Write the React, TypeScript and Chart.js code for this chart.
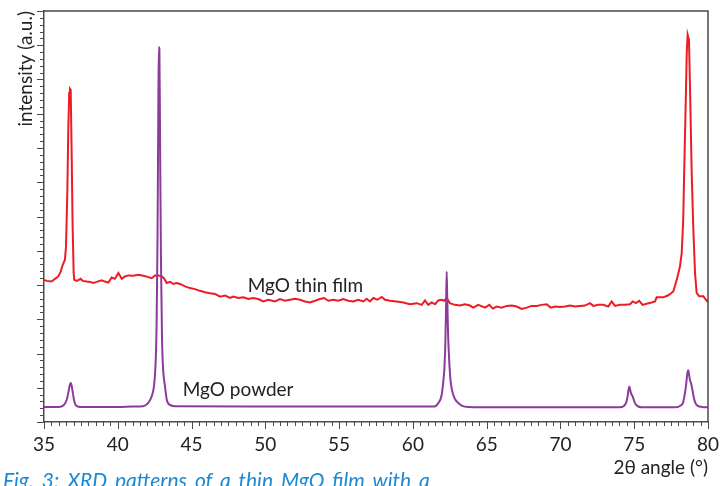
import React, { useEffect, useRef } from "react";
import { Chart, registerables } from "chart.js";

Chart.register(...registerables);

// ---- data (2θ in degrees, intensity in arbitrary units) ----
const filmX = [
  35.0, 35.18, 35.52, 35.75, 35.97, 36.13, 36.27, 36.42, 36.49, 36.58, 36.65, 36.71, 36.76, 36.81, 36.88, 36.94,
  37.01, 37.05, 37.22, 37.49, 37.62, 37.89, 38.12, 38.34, 38.57, 38.91, 39.13, 39.36, 39.59, 39.81, 40.04, 40.27,
  40.49, 40.71, 41.05, 41.39, 41.73, 42.07, 42.3, 42.52, 42.75, 42.98, 43.13, 43.32, 43.54, 43.76, 43.99, 44.22,
  44.56, 44.89, 45.23, 45.57, 45.91, 46.25, 46.59, 46.93, 47.27, 47.61, 47.83, 48.17, 48.51, 48.84, 49.18, 49.52,
  49.86, 50.2, 50.65, 50.99, 51.33, 51.67, 52.01, 52.35, 52.69, 53.03, 53.37, 53.7, 53.98, 54.27, 54.61, 54.94,
  55.28, 55.62, 55.96, 56.3, 56.64, 56.87, 57.09, 57.32, 57.59, 57.89, 58.11, 58.45, 58.9, 59.35, 59.8, 60.26,
  60.6, 60.82, 61.04, 61.27, 61.5, 61.72, 61.95, 62.11, 62.29, 62.51, 62.85, 63.19, 63.53, 63.87, 64.09, 64.43,
  64.89, 65.18, 65.41, 65.68, 66.02, 66.36, 66.7, 67.03, 67.37, 67.71, 68.05, 68.39, 68.73, 69.07, 69.34, 69.63,
  69.97, 70.31, 70.65, 70.99, 71.32, 71.66, 72.0, 72.23, 72.56, 72.9, 73.24, 73.47, 73.7, 74.03, 74.37, 74.71,
  74.9, 75.12, 75.34, 75.57, 75.84, 76.18, 76.41, 76.52, 76.97, 77.31, 77.65, 77.88, 78.1, 78.22, 78.32, 78.39,
  78.49, 78.56, 78.62, 78.71, 78.78, 78.89, 79.0, 79.12, 79.23, 79.41, 79.68, 79.95, 80.0,
];
const filmY = [
  4.15, 4.12, 4.1, 4.18, 4.25, 4.39, 4.59, 4.74, 5.12, 6.69, 8.63, 9.61, 9.73, 9.7, 7.65, 5.71,
  4.36, 4.15, 4.12, 4.18, 4.12, 4.1, 4.09, 4.06, 4.09, 4.14, 4.1, 4.07, 4.22, 4.18, 4.35, 4.18,
  4.25, 4.28, 4.27, 4.3, 4.27, 4.23, 4.2, 4.28, 4.28, 4.25, 4.2, 4.06, 4.09, 4.03, 4.06, 4.03,
  3.96, 3.91, 3.88, 3.83, 3.79, 3.76, 3.74, 3.66, 3.69, 3.62, 3.66, 3.62, 3.64, 3.59, 3.62, 3.59,
  3.52, 3.57, 3.52, 3.59, 3.54, 3.57, 3.6, 3.57, 3.52, 3.49, 3.54, 3.59, 3.62, 3.54, 3.57, 3.54,
  3.59, 3.54, 3.52, 3.57, 3.52, 3.6, 3.52, 3.62, 3.57, 3.65, 3.57, 3.54, 3.52, 3.49, 3.44, 3.47,
  3.42, 3.55, 3.42, 3.49, 3.44, 3.55, 3.57, 3.54, 3.62, 3.47, 3.42, 3.4, 3.44, 3.4, 3.34, 3.42,
  3.34, 3.42, 3.31, 3.37, 3.34, 3.39, 3.4, 3.37, 3.3, 3.34, 3.39, 3.39, 3.42, 3.44, 3.34, 3.37,
  3.36, 3.37, 3.4, 3.37, 3.39, 3.4, 3.47, 3.39, 3.42, 3.42, 3.37, 3.52, 3.39, 3.42, 3.42, 3.44,
  3.52, 3.47, 3.54, 3.42, 3.45, 3.49, 3.52, 3.64, 3.64, 3.7, 3.81, 4.15, 4.54, 4.94, 5.9, 7.36,
  9.32, 10.78, 11.31, 11.16, 9.79, 7.36, 5.71, 4.36, 3.77, 3.67, 3.67, 3.52, 3.51,
];

const powderX = [
  35.0, 36.0, 36.31, 36.54, 36.65, 36.76, 36.83, 36.94, 37.03, 37.17, 37.44, 40.0, 41.0, 41.7,
  42.05, 42.3, 42.45, 42.55, 42.63, 42.69, 42.74, 42.78, 42.82, 42.87, 42.93, 43.0, 43.08, 43.2,
  43.32, 43.54, 43.9, 50.0, 55.0, 60.0, 61.0, 61.4, 61.72, 61.95, 62.06, 62.14, 62.2, 62.25,
  62.29, 62.33, 62.39, 62.46, 62.56, 62.74, 62.97, 63.31, 63.75, 66.0, 70.0, 74.0, 74.3, 74.45,
  74.55, 74.62, 74.67, 74.72, 74.8, 74.88, 74.95, 75.05, 75.2, 75.5, 77.8, 78.15, 78.3, 78.42,
  78.52, 78.6, 78.66, 78.72, 78.78, 78.86, 78.94, 79.02, 79.12, 79.3, 79.6, 80.0,
];
const powderY = [
  0.44, 0.44, 0.48, 0.65, 0.86, 1.09, 1.14, 0.89, 0.65, 0.48, 0.44, 0.44, 0.45, 0.46,
  0.55, 0.75, 1.04, 1.6, 2.8, 5.2, 8.6, 10.95, 10.9, 8.0, 4.6, 2.4, 1.5, 1.04,
  0.65, 0.5, 0.46, 0.45, 0.45, 0.45, 0.45, 0.45, 0.55, 0.79, 1.18, 1.6, 2.3, 3.4,
  4.39, 3.6, 2.5, 1.8, 1.18, 0.79, 0.6, 0.48, 0.44, 0.43, 0.43, 0.43, 0.47, 0.56,
  0.75, 0.95, 1.04, 0.95, 0.82, 0.76, 0.68, 0.55, 0.47, 0.43, 0.43, 0.48, 0.56, 0.8,
  1.1, 1.42, 1.51, 1.38, 1.22, 1.12, 0.95, 0.75, 0.58, 0.47, 0.44, 0.43,
];

const xTickLabels = [35, 40, 45, 50, 55, 60, 65, 70, 75, 80];
const seriesNames = ["MgO thin film", "MgO powder"];
const xTitle = "2θ angle (°)";
const yTitle = "intensity (a.u.)";
const caption = "Fig. 3: XRD patterns of a thin MgO film with a";

const RED = "#ec1c24";
const PURPLE = "#8e3a9c";
const AXIS = "#4a4a4a";
const TEXT = "#222222";
const FONT = "Lato";

const decorPlugin = {
  id: "decor",
  afterDraw(chart: any) {
    const { ctx, chartArea: a, scales } = chart;
    const x = scales.x;
    const y = scales.y;
    ctx.save();
    ctx.strokeStyle = AXIS;
    ctx.lineWidth = 1;
    ctx.beginPath();
    for (let i = 0; i <= 90; i++) {
      const v = 35 + i * 0.5;
      const px = Math.round(x.getPixelForValue(v)) + 0.5;
      const len = i % 10 === 0 ? 7 : 4;
      ctx.moveTo(px, a.bottom);
      ctx.lineTo(px, a.bottom + len);
    }
    for (let i = 0; i <= 60; i++) {
      const v = i * 0.2;
      const py = Math.round(y.getPixelForValue(v)) + 0.5;
      const len = i % 5 === 0 ? 7 : 4;
      ctx.moveTo(a.left - len, py);
      ctx.lineTo(a.left, py);
    }
    ctx.stroke();
    // frame top and right
    ctx.lineWidth = 1.5;
    ctx.beginPath();
    ctx.moveTo(a.left, a.top);
    ctx.lineTo(a.right, a.top);
    ctx.lineTo(a.right, a.bottom);
    ctx.stroke();
    // series labels
    ctx.fillStyle = TEXT;
    ctx.font = `19px ${FONT}`;
    ctx.textBaseline = "alphabetic";
    ctx.textAlign = "left";
    ctx.fillText(seriesNames[0], x.getPixelForValue(48.8), y.getPixelForValue(3.8));
    ctx.fillText(seriesNames[1], x.getPixelForValue(44.4), y.getPixelForValue(0.77));
    ctx.restore();
  },
};

export default function App() {
  const ref = useRef<HTMLCanvasElement | null>(null);
  useEffect(() => {
    if (!ref.current) return;
    const chart = new Chart(ref.current, {
      type: "line",
      data: {
        datasets: [
          {
            label: seriesNames[1],
            data: powderX.map((xv, i) => ({ x: xv, y: powderY[i] })),
            borderColor: PURPLE,
            borderWidth: 2,
            pointRadius: 0,
            cubicInterpolationMode: "monotone",
            fill: false,
          },
          {
            label: seriesNames[0],
            data: filmX.map((xv, i) => ({ x: xv, y: filmY[i] })),
            borderColor: RED,
            borderWidth: 2,
            pointRadius: 0,
            tension: 0,
            fill: false,
          },
        ],
      },
      options: {
        responsive: false,
        animation: false,
        devicePixelRatio: 1,
        layout: { padding: { top: 11, right: 12, left: 0, bottom: 0 } },
        plugins: { legend: { display: false }, tooltip: { enabled: false } },
        scales: {
          x: {
            type: "linear",
            min: 35,
            max: 80,
            grid: { display: false, drawTicks: false },
            border: { display: true, color: AXIS, width: 1.5 },
            ticks: {
              stepSize: 5,
              padding: 11,
              maxRotation: 0,
              autoSkip: false,
              color: TEXT,
              font: { family: FONT, size: 19 },
              callback: (v: any) => (xTickLabels.includes(Number(v)) ? String(v) : ""),
            },
            title: {
              display: true,
              text: xTitle,
              align: "end",
              color: TEXT,
              font: { family: FONT, size: 19 },
              padding: { top: 0, bottom: 7 },
            },
            afterFit: (s: any) => {
              s.height = 64;
              s.paddingLeft = 0;
              s.paddingRight = 0;
            },
          },
          y: {
            type: "linear",
            min: 0,
            max: 12,
            grid: { display: false, drawTicks: false },
            border: { display: true, color: AXIS, width: 1.5 },
            ticks: { display: false },
            title: {
              display: true,
              text: yTitle,
              align: "end",
              color: TEXT,
              font: { family: FONT, size: 19 },
              padding: { top: 14, bottom: 0 },
            },
            afterFit: (s: any) => {
              s.width = 44;
              s.paddingTop = 0;
              s.paddingBottom = 0;
            },
          },
        },
      } as any,
      plugins: [decorPlugin],
    });
    return () => chart.destroy();
  }, []);

  return (
    <div style={{ position: "absolute", left: 0, top: 0, width: 720, height: 486, overflow: "hidden", background: "#fff" }}>
      <canvas ref={ref} width={720} height={486} style={{ display: "block" }} />
      <div
        style={{
          position: "absolute",
          left: 3,
          top: 467,
          fontFamily: FONT,
          fontStyle: "italic",
          fontSize: 21,
          lineHeight: "25px",
          color: "#1b8ad2",
          whiteSpace: "nowrap",
          wordSpacing: "3px",
        }}
      >
        {caption}
      </div>
    </div>
  );
}
